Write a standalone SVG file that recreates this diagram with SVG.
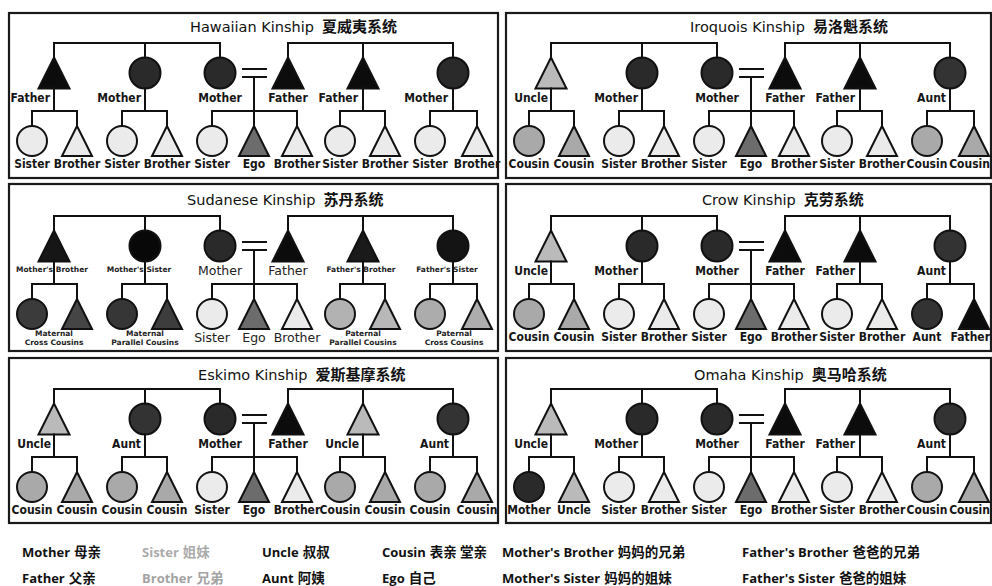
<svg xmlns="http://www.w3.org/2000/svg" width="992" height="586" viewBox="0 0 992 586">
<style>
.pn{fill:#fff;stroke:#1a1a1a;stroke-width:2.2}
circle,use{stroke:#111;stroke-width:2}
.k0{fill:#0c0c0c}.k1{fill:#2a2a2a}.k2{fill:#333}.ug{fill:#bababa}.cz{fill:#a9a9a9}.sb{fill:#ebebeb}.eg{fill:#6c6c6c}
.lb{font-family:"DejaVu Sans Condensed","DejaVu Sans",sans-serif;font-stretch:condensed;font-weight:bold;font-size:12px;fill:#161616}
.e{text-anchor:end}.m{text-anchor:middle}
.sm{font-family:"DejaVu Sans",sans-serif;font-weight:bold;font-size:7.5px;fill:#222;text-anchor:middle}
.rg{font-family:"DejaVu Sans",sans-serif;font-size:12.5px;fill:#222;text-anchor:middle}
.tt{font-family:"DejaVu Sans",sans-serif;font-size:14.5px;fill:#111}
.cj{font-family:"Noto Sans CJK SC",sans-serif;font-weight:bold;font-size:15px}
.lgd{font-family:"Open Sans","Noto Sans CJK SC",sans-serif;font-weight:bold;font-size:13px;fill:#111}
.lc{font-family:"Noto Sans CJK SC",sans-serif;font-weight:bold;font-size:13.5px}
.cn{fill:none;stroke:#111;stroke-width:2;stroke-linecap:square}
</style>
<defs>
<path id="T1" d="M0,-15.5L15.5,15.5H-15.5Z"/>
<path id="T2" d="M0,-15L15,15H-15Z"/>
</defs>
<rect width="992" height="586" fill="#fff"/>

<!-- Hawaiian -->
<g id="hawaiian" transform="translate(0,43)">
<rect class="pn" x="9" y="-30" width="489" height="165"/>
<text class="tt" x="190" y="-11">Hawaiian Kinship<tspan class="cj" dx="8">夏威夷系统</tspan></text>
<g id="haw-father-a"><use href="#T1" x="54" y="30" class="k0"/><text class="lb e" x="50" y="59">Father</text></g>
<g id="haw-mother-a"><circle cx="145" cy="30" r="15.5" class="k1"/><text class="lb e" x="141" y="59">Mother</text></g>
<g id="haw-mother"><circle cx="220" cy="30" r="15.5" class="k1"/><text class="lb m" x="220" y="59">Mother</text></g>
<g id="haw-father"><use href="#T1" x="288" y="30" class="k0"/><text class="lb m" x="288" y="59">Father</text></g>
<g id="haw-father-b"><use href="#T1" x="363" y="30" class="k0"/><text class="lb e" x="358" y="59">Father</text></g>
<g id="haw-mother-b"><circle cx="453" cy="30" r="15.5" class="k1"/><text class="lb e" x="448" y="59">Mother</text></g>
<g id="haw-c1"><circle cx="32" cy="98" r="15" class="sb"/><text class="lb m" x="32" y="125">Sister</text></g>
<g id="haw-c2"><use href="#T2" x="77" y="98" class="sb"/><text class="lb m" x="77" y="125">Brother</text></g>
<g id="haw-c3"><circle cx="122" cy="98" r="15" class="sb"/><text class="lb m" x="122" y="125">Sister</text></g>
<g id="haw-c4"><use href="#T2" x="167" y="98" class="sb"/><text class="lb m" x="167" y="125">Brother</text></g>
<g id="haw-c5"><circle cx="212" cy="98" r="15" class="sb"/><text class="lb m" x="212" y="125">Sister</text></g>
<g id="haw-ego"><use href="#T2" x="254" y="98" class="eg"/><text class="lb m" x="254" y="125">Ego</text></g>
<g id="haw-c7"><use href="#T2" x="297" y="98" class="sb"/><text class="lb m" x="297" y="125">Brother</text></g>
<g id="haw-c8"><circle cx="340" cy="98" r="15" class="sb"/><text class="lb m" x="340" y="125">Sister</text></g>
<g id="haw-c9"><use href="#T2" x="385" y="98" class="sb"/><text class="lb m" x="385" y="125">Brother</text></g>
<g id="haw-c10"><circle cx="430" cy="98" r="15" class="sb"/><text class="lb m" x="430" y="125">Sister</text></g>
<g id="haw-c11"><use href="#T2" x="477" y="98" class="sb"/><text class="lb m" x="477" y="125">Brother</text></g>
</g>

<!-- Iroquois -->
<g id="iroquois" transform="translate(497,43)">
<rect class="pn" x="9" y="-30" width="485" height="165"/>
<text class="tt" x="193" y="-11">Iroquois Kinship<tspan class="cj" dx="8">易洛魁系统</tspan></text>
<g id="iro-uncle"><use href="#T1" x="54" y="30" class="ug"/><text class="lb e" x="51" y="59">Uncle</text></g>
<g id="iro-mother-a"><circle cx="145" cy="30" r="15.5" class="k1"/><text class="lb e" x="141" y="59">Mother</text></g>
<g id="iro-mother"><circle cx="220" cy="30" r="15.5" class="k1"/><text class="lb m" x="220" y="59">Mother</text></g>
<g id="iro-father"><use href="#T1" x="288" y="30" class="k0"/><text class="lb m" x="288" y="59">Father</text></g>
<g id="iro-father-b"><use href="#T1" x="363" y="30" class="k0"/><text class="lb e" x="358" y="59">Father</text></g>
<g id="iro-aunt"><circle cx="453" cy="30" r="15.5" class="k2"/><text class="lb e" x="449" y="59">Aunt</text></g>
<g id="iro-c1"><circle cx="32" cy="98" r="15" class="cz"/><text class="lb m" x="32" y="125">Cousin</text></g>
<g id="iro-c2"><use href="#T2" x="77" y="98" class="cz"/><text class="lb m" x="77" y="125">Cousin</text></g>
<g id="iro-c3"><circle cx="122" cy="98" r="15" class="sb"/><text class="lb m" x="122" y="125">Sister</text></g>
<g id="iro-c4"><use href="#T2" x="167" y="98" class="sb"/><text class="lb m" x="167" y="125">Brother</text></g>
<g id="iro-c5"><circle cx="212" cy="98" r="15" class="sb"/><text class="lb m" x="212" y="125">Sister</text></g>
<g id="iro-ego"><use href="#T2" x="254" y="98" class="eg"/><text class="lb m" x="254" y="125">Ego</text></g>
<g id="iro-c7"><use href="#T2" x="297" y="98" class="sb"/><text class="lb m" x="297" y="125">Brother</text></g>
<g id="iro-c8"><circle cx="340" cy="98" r="15" class="sb"/><text class="lb m" x="340" y="125">Sister</text></g>
<g id="iro-c9"><use href="#T2" x="385" y="98" class="sb"/><text class="lb m" x="385" y="125">Brother</text></g>
<g id="iro-c10"><circle cx="430" cy="98" r="15" class="cz"/><text class="lb m" x="430" y="125">Cousin</text></g>
<g id="iro-c11"><use href="#T2" x="477" y="98" class="cz"/><text class="lb e" x="493" y="125">Cousin</text></g>
</g>

<!-- Sudanese -->
<g id="sudanese" transform="translate(0,216)">
<rect class="pn" x="9" y="-32" width="489" height="167"/>
<text class="tt" x="187" y="-11">Sudanese Kinship<tspan class="cj" dx="8">苏丹系统</tspan></text>
<g id="sud-mb"><use href="#T1" x="54" y="30" style="fill:#161616"/><text class="sm" x="52" y="56">Mother's Brother</text></g>
<g id="sud-ms"><circle cx="145" cy="30" r="15.5" style="fill:#080808"/><text class="sm" x="139" y="56">Mother's Sister</text></g>
<g id="sud-mother"><circle cx="220" cy="30" r="15.5" class="k1"/><text class="rg" x="220" y="59">Mother</text></g>
<g id="sud-father"><use href="#T1" x="288" y="30" class="k0"/><text class="rg" x="288" y="59">Father</text></g>
<g id="sud-fb"><use href="#T1" x="363" y="30" style="fill:#1a1a1a"/><text class="sm" x="361" y="56">Father's Brother</text></g>
<g id="sud-fs"><circle cx="453" cy="30" r="15.5" style="fill:#141414"/><text class="sm" x="447" y="56">Father's Sister</text></g>
<g id="sud-maternal-cross">
<g id="sud-c1"><circle cx="32" cy="98" r="15" style="fill:#3b3b3b"/></g>
<g id="sud-c2"><use href="#T2" x="77" y="98" style="fill:#454545"/></g>
<text class="sm" x="54" y="120">Maternal</text><text class="sm" x="54" y="129">Cross Cousins</text>
</g>
<g id="sud-maternal-parallel">
<g id="sud-c3"><circle cx="122" cy="98" r="15" style="fill:#363636"/></g>
<g id="sud-c4"><use href="#T2" x="167" y="98" style="fill:#3d3d3d"/></g>
<text class="sm" x="145" y="120">Maternal</text><text class="sm" x="145" y="129">Parallel Cousins</text>
</g>
<g id="sud-c5"><circle cx="212" cy="98" r="15" class="sb"/><text class="rg" x="212" y="126">Sister</text></g>
<g id="sud-ego"><use href="#T2" x="254" y="98" class="eg"/><text class="rg" x="254" y="126">Ego</text></g>
<g id="sud-c7"><use href="#T2" x="297" y="98" class="sb"/><text class="rg" x="297" y="126">Brother</text></g>
<g id="sud-paternal-parallel">
<g id="sud-c8"><circle cx="340" cy="98" r="15" style="fill:#b2b2b2"/></g>
<g id="sud-c9"><use href="#T2" x="385" y="98" style="fill:#b8b8b8"/></g>
<text class="sm" x="363" y="120">Paternal</text><text class="sm" x="363" y="129">Parallel Cousins</text>
</g>
<g id="sud-paternal-cross">
<g id="sud-c10"><circle cx="430" cy="98" r="15" style="fill:#acacac"/></g>
<g id="sud-c11"><use href="#T2" x="477" y="98" style="fill:#adadad"/></g>
<text class="sm" x="454" y="120">Paternal</text><text class="sm" x="454" y="129">Cross Cousins</text>
</g>
</g>

<!-- Crow -->
<g id="crow" transform="translate(497,216)">
<rect class="pn" x="9" y="-32" width="485" height="167"/>
<text class="tt" x="205" y="-11">Crow Kinship<tspan class="cj" dx="8">克劳系统</tspan></text>
<g id="crow-uncle"><use href="#T1" x="54" y="30" class="ug"/><text class="lb e" x="51" y="59">Uncle</text></g>
<g id="crow-mother-a"><circle cx="145" cy="30" r="15.5" class="k1"/><text class="lb e" x="141" y="59">Mother</text></g>
<g id="crow-mother"><circle cx="220" cy="30" r="15.5" class="k1"/><text class="lb m" x="220" y="59">Mother</text></g>
<g id="crow-father"><use href="#T1" x="288" y="30" class="k0"/><text class="lb m" x="288" y="59">Father</text></g>
<g id="crow-father-b"><use href="#T1" x="363" y="30" class="k0"/><text class="lb e" x="358" y="59">Father</text></g>
<g id="crow-aunt"><circle cx="453" cy="30" r="15.5" class="k2"/><text class="lb e" x="449" y="59">Aunt</text></g>
<g id="crow-c1"><circle cx="32" cy="98" r="15" class="cz"/><text class="lb m" x="32" y="125">Cousin</text></g>
<g id="crow-c2"><use href="#T2" x="77" y="98" class="cz"/><text class="lb m" x="77" y="125">Cousin</text></g>
<g id="crow-c3"><circle cx="122" cy="98" r="15" class="sb"/><text class="lb m" x="122" y="125">Sister</text></g>
<g id="crow-c4"><use href="#T2" x="167" y="98" class="sb"/><text class="lb m" x="167" y="125">Brother</text></g>
<g id="crow-c5"><circle cx="212" cy="98" r="15" class="sb"/><text class="lb m" x="212" y="125">Sister</text></g>
<g id="crow-ego"><use href="#T2" x="254" y="98" class="eg"/><text class="lb m" x="254" y="125">Ego</text></g>
<g id="crow-c7"><use href="#T2" x="297" y="98" class="sb"/><text class="lb m" x="297" y="125">Brother</text></g>
<g id="crow-c8"><circle cx="340" cy="98" r="15" class="sb"/><text class="lb m" x="340" y="125">Sister</text></g>
<g id="crow-c9"><use href="#T2" x="385" y="98" class="sb"/><text class="lb m" x="385" y="125">Brother</text></g>
<g id="crow-c10"><circle cx="430" cy="98" r="15" class="k2"/><text class="lb m" x="430" y="125">Aunt</text></g>
<g id="crow-c11"><use href="#T2" x="477" y="98" class="k0"/><text class="lb e" x="493" y="125">Father</text></g>
</g>

<!-- Eskimo -->
<g id="eskimo" transform="translate(0,389)">
<rect class="pn" x="9" y="-31" width="489" height="165"/>
<text class="tt" x="198" y="-9">Eskimo Kinship<tspan class="cj" dx="8">爱斯基摩系统</tspan></text>
<g id="esk-uncle-a"><use href="#T1" x="54" y="30" class="ug"/><text class="lb e" x="51" y="59">Uncle</text></g>
<g id="esk-aunt-a"><circle cx="145" cy="30" r="15.5" class="k2"/><text class="lb e" x="141" y="59">Aunt</text></g>
<g id="esk-mother"><circle cx="220" cy="30" r="15.5" class="k1"/><text class="lb m" x="220" y="59">Mother</text></g>
<g id="esk-father"><use href="#T1" x="288" y="30" class="k0"/><text class="lb m" x="288" y="59">Father</text></g>
<g id="esk-uncle-b"><use href="#T1" x="363" y="30" class="ug"/><text class="lb e" x="359" y="59">Uncle</text></g>
<g id="esk-aunt-b"><circle cx="453" cy="30" r="15.5" class="k2"/><text class="lb e" x="449" y="59">Aunt</text></g>
<g id="esk-c1"><circle cx="32" cy="98" r="15" class="cz"/><text class="lb m" x="32" y="125">Cousin</text></g>
<g id="esk-c2"><use href="#T2" x="77" y="98" class="cz"/><text class="lb m" x="77" y="125">Cousin</text></g>
<g id="esk-c3"><circle cx="122" cy="98" r="15" class="cz"/><text class="lb m" x="122" y="125">Cousin</text></g>
<g id="esk-c4"><use href="#T2" x="167" y="98" class="cz"/><text class="lb m" x="167" y="125">Cousin</text></g>
<g id="esk-c5"><circle cx="212" cy="98" r="15" class="sb"/><text class="lb m" x="212" y="125">Sister</text></g>
<g id="esk-ego"><use href="#T2" x="254" y="98" class="eg"/><text class="lb m" x="254" y="125">Ego</text></g>
<g id="esk-c7"><use href="#T2" x="297" y="98" class="sb"/><text class="lb m" x="297" y="125">Brother</text></g>
<g id="esk-c8"><circle cx="340" cy="98" r="15" class="cz"/><text class="lb m" x="340" y="125">Cousin</text></g>
<g id="esk-c9"><use href="#T2" x="385" y="98" class="cz"/><text class="lb m" x="385" y="125">Cousin</text></g>
<g id="esk-c10"><circle cx="430" cy="98" r="15" class="cz"/><text class="lb m" x="430" y="125">Cousin</text></g>
<g id="esk-c11"><use href="#T2" x="477" y="98" class="cz"/><text class="lb m" x="477" y="125">Cousin</text></g>
</g>

<!-- Omaha -->
<g id="omaha" transform="translate(497,389)">
<rect class="pn" x="9" y="-31" width="485" height="165"/>
<text class="tt" x="197" y="-9">Omaha Kinship<tspan class="cj" dx="8">奥马哈系统</tspan></text>
<g id="oma-uncle"><use href="#T1" x="54" y="30" class="ug"/><text class="lb e" x="51" y="59">Uncle</text></g>
<g id="oma-mother-a"><circle cx="145" cy="30" r="15.5" class="k1"/><text class="lb e" x="141" y="59">Mother</text></g>
<g id="oma-mother"><circle cx="220" cy="30" r="15.5" class="k1"/><text class="lb m" x="220" y="59">Mother</text></g>
<g id="oma-father"><use href="#T1" x="288" y="30" class="k0"/><text class="lb m" x="288" y="59">Father</text></g>
<g id="oma-father-b"><use href="#T1" x="363" y="30" class="k0"/><text class="lb e" x="358" y="59">Father</text></g>
<g id="oma-aunt"><circle cx="453" cy="30" r="15.5" class="k2"/><text class="lb e" x="449" y="59">Aunt</text></g>
<g id="oma-c1"><circle cx="32" cy="98" r="15" class="k1"/><text class="lb m" x="32" y="125">Mother</text></g>
<g id="oma-c2"><use href="#T2" x="77" y="98" class="ug"/><text class="lb m" x="77" y="125">Uncle</text></g>
<g id="oma-c3"><circle cx="122" cy="98" r="15" class="sb"/><text class="lb m" x="122" y="125">Sister</text></g>
<g id="oma-c4"><use href="#T2" x="167" y="98" class="sb"/><text class="lb m" x="167" y="125">Brother</text></g>
<g id="oma-c5"><circle cx="212" cy="98" r="15" class="sb"/><text class="lb m" x="212" y="125">Sister</text></g>
<g id="oma-ego"><use href="#T2" x="254" y="98" class="eg"/><text class="lb m" x="254" y="125">Ego</text></g>
<g id="oma-c7"><use href="#T2" x="297" y="98" class="sb"/><text class="lb m" x="297" y="125">Brother</text></g>
<g id="oma-c8"><circle cx="340" cy="98" r="15" class="sb"/><text class="lb m" x="340" y="125">Sister</text></g>
<g id="oma-c9"><use href="#T2" x="385" y="98" class="sb"/><text class="lb m" x="385" y="125">Brother</text></g>
<g id="oma-c10"><circle cx="430" cy="98" r="15" class="cz"/><text class="lb m" x="430" y="125">Cousin</text></g>
<g id="oma-c11"><use href="#T2" x="477" y="98" class="cz"/><text class="lb e" x="493" y="125">Cousin</text></g>
</g>

<!-- connectors -->
<g id="connectors" class="cn">
<path transform="translate(0,43)" d="M54,0H220M54,0V14.5M145,0V14.5M220,0V14.5M288,0H453M288,0V14.5M363,0V14.5M453,0V14.5M54,45.5V68M145,45.5V68M363,45.5V68M453,45.5V68M243,26H266M243,34H266M254,34V83M32,68H77M122,68H167M212,68H297M340,68H385M430,68H477M32,68V83M77,68V83M122,68V83M167,68V83M212,68V83M297,68V83M340,68V83M385,68V83M430,68V83M477,68V83"/>
<path transform="translate(497,43)" d="M54,0H220M54,0V14.5M145,0V14.5M220,0V14.5M288,0H453M288,0V14.5M363,0V14.5M453,0V14.5M54,45.5V68M145,45.5V68M363,45.5V68M453,45.5V68M243,26H266M243,34H266M254,34V83M32,68H77M122,68H167M212,68H297M340,68H385M430,68H477M32,68V83M77,68V83M122,68V83M167,68V83M212,68V83M297,68V83M340,68V83M385,68V83M430,68V83M477,68V83"/>
<path transform="translate(0,216)" d="M54,0H220M54,0V14.5M145,0V14.5M220,0V14.5M288,0H453M288,0V14.5M363,0V14.5M453,0V14.5M54,45.5V68M145,45.5V68M363,45.5V68M453,45.5V68M243,26H266M243,34H266M254,34V83M32,68H77M122,68H167M212,68H297M340,68H385M430,68H477M32,68V83M77,68V83M122,68V83M167,68V83M212,68V83M297,68V83M340,68V83M385,68V83M430,68V83M477,68V83"/>
<path transform="translate(497,216)" d="M54,0H220M54,0V14.5M145,0V14.5M220,0V14.5M288,0H453M288,0V14.5M363,0V14.5M453,0V14.5M54,45.5V68M145,45.5V68M363,45.5V68M453,45.5V68M243,26H266M243,34H266M254,34V83M32,68H77M122,68H167M212,68H297M340,68H385M430,68H477M32,68V83M77,68V83M122,68V83M167,68V83M212,68V83M297,68V83M340,68V83M385,68V83M430,68V83M477,68V83"/>
<path transform="translate(0,389)" d="M54,0H220M54,0V14.5M145,0V14.5M220,0V14.5M288,0H453M288,0V14.5M363,0V14.5M453,0V14.5M54,45.5V68M145,45.5V68M363,45.5V68M453,45.5V68M243,26H266M243,34H266M254,34V83M32,68H77M122,68H167M212,68H297M340,68H385M430,68H477M32,68V83M77,68V83M122,68V83M167,68V83M212,68V83M297,68V83M340,68V83M385,68V83M430,68V83M477,68V83"/>
<path transform="translate(497,389)" d="M54,0H220M54,0V14.5M145,0V14.5M220,0V14.5M288,0H453M288,0V14.5M363,0V14.5M453,0V14.5M54,45.5V68M145,45.5V68M363,45.5V68M453,45.5V68M243,26H266M243,34H266M254,34V83M32,68H77M122,68H167M212,68H297M340,68H385M430,68H477M32,68V83M77,68V83M122,68V83M167,68V83M212,68V83M297,68V83M340,68V83M385,68V83M430,68V83M477,68V83"/>
</g>

<!-- legend -->
<g id="legend" class="lgd">
<text x="22" y="557">Mother<tspan class="lc" dx="4">母亲</tspan></text>
<text x="22" y="583">Father<tspan class="lc" dx="4">父亲</tspan></text>
<text x="142" y="557" style="fill:#ababab">Sister<tspan class="lc" dx="4">姐妹</tspan></text>
<text x="142" y="583" style="fill:#a3a3a3">Brother<tspan class="lc" dx="4">兄弟</tspan></text>
<text x="262" y="557">Uncle<tspan class="lc" dx="4">叔叔</tspan></text>
<text x="262" y="583">Aunt<tspan class="lc" dx="4">阿姨</tspan></text>
<text x="382" y="557">Cousin<tspan class="lc" dx="4">表亲 堂亲</tspan></text>
<text x="382" y="583">Ego<tspan class="lc" dx="4">自己</tspan></text>
<text x="502" y="557">Mother's Brother<tspan class="lc" dx="4">妈妈的兄弟</tspan></text>
<text x="502" y="583">Mother's Sister<tspan class="lc" dx="4">妈妈的姐妹</tspan></text>
<text x="742" y="557">Father's Brother<tspan class="lc" dx="4">爸爸的兄弟</tspan></text>
<text x="742" y="583">Father's Sister<tspan class="lc" dx="4">爸爸的姐妹</tspan></text>
</g>
</svg>
